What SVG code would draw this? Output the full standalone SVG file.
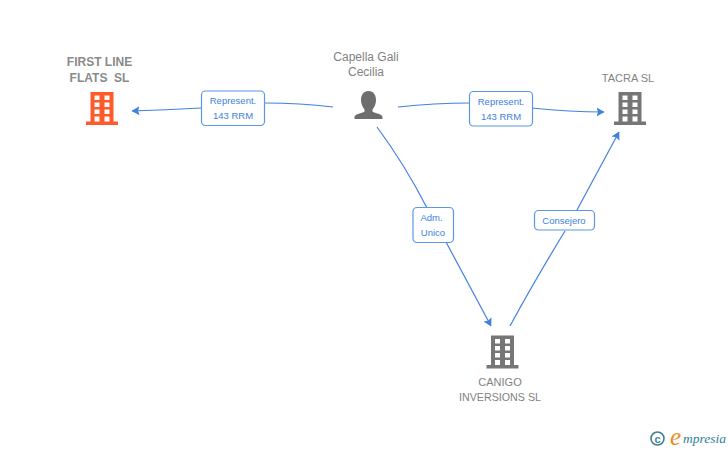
<svg xmlns="http://www.w3.org/2000/svg" width="728" height="450" viewBox="0 0 728 450">
<style>
text{font-family:"Liberation Sans",Arial,sans-serif}
.n{font-size:11px;fill:#828282;text-anchor:middle}
.b{font-weight:bold;font-size:12px;white-space:pre;fill:#8a8a8a}
.p{font-size:12px}
.l{font-size:9.500px;fill:#3b7fe0;text-anchor:middle}
.c{fill:none;stroke:#3f80e0;stroke-width:1.200}
.box{fill:#fff;stroke:#5b97e6;stroke-width:1.200}
</style>
<defs>
<marker id="a" viewBox="0 0 8 10" refX="7.500" refY="5" markerWidth="8" markerHeight="10" markerUnits="userSpaceOnUse" orient="auto"><path d="M0 0.500L8 5L0 9.500L1.500 5Z" fill="#3f80e0"/></marker>
<g id="bld">
<path fill-rule="evenodd" d="M-11.500 -16.500H11.500V13H16V16.500H-16V13H-11.500ZM-7.500 -13V-8.500H-2.500V-13ZM2.500 -13V-8.500H7.500V-13ZM-7.500 -6V-1.500H-2.500V-6ZM2.500 -6V-1.500H7.500V-6ZM-7.500 1V5.500H-2.500V1ZM2.500 1V5.500H7.500V1ZM-7.500 8V13H-2.500V8ZM2.500 8V13H7.500V8Z"/>
</g>
</defs>
<rect width="728" height="450" fill="#fff"/>
<g id="connectors">
<path class="c" d="M333 107Q300 103 265 103"/>
<path class="c" d="M201 108Q165 110 132 111" marker-end="url(#a)"/>
<path class="c" d="M398 107Q435 103 470 103"/>
<path class="c" d="M532 108Q570 112 604 112" marker-end="url(#a)"/>
<path class="c" d="M377 127Q405 165 427 208"/>
<path class="c" d="M446 242L491 326" marker-end="url(#a)"/>
<path class="c" d="M510 326Q535 280 565 231"/>
<path class="c" d="M577 210L619 132" marker-end="url(#a)"/>
</g>
<g id="edge-1"><rect class="box" x="201.500" y="91" width="63" height="34.500" rx="4"/><text class="l" x="233" y="104">Represent.</text><text class="l" x="233" y="119">143 RRM</text></g>
<g id="edge-2"><rect class="box" x="469.500" y="91.500" width="63" height="34.500" rx="4"/><text class="l" x="501" y="105">Represent.</text><text class="l" x="501" y="120">143 RRM</text></g>
<g id="edge-3"><rect class="box" x="413" y="207.500" width="40.500" height="35" rx="4"/><text class="l" x="431.500" y="221">Adm.</text><text class="l" x="433" y="236">Unico</text></g>
<g id="edge-4"><rect class="box" x="534.500" y="210.500" width="60" height="19.500" rx="4"/><text class="l" x="564" y="224">Consejero</text></g>
<g id="first-line"><text class="n b" x="99.500" y="65.500">FIRST LINE</text><text class="n b" x="99.500" y="81.500" xml:space="preserve">FLATS  SL</text><use href="#bld" x="102" y="108.500" fill="#ff5a2b"/></g>
<g id="capella"><text class="n p" x="366" y="60.500">Capella Gali</text><text class="n p" x="366" y="75.500">Cecilia</text><path fill="#6e6e6e" d="M368.500 91C373.500 91 376 95 376 100C376 104 374.500 107 372.500 109.500V111.500C375 113.500 382 113.500 382.500 117V119H354.500V117C355 113.500 362 113.500 364.500 111.500V109.500C362.500 107 361 104 361 100C361 95 363.500 91 368.500 91Z"/></g>
<g id="tacra"><text class="n" x="628" y="82">TACRA SL</text><use href="#bld" x="630" y="108.500" fill="#767676"/></g>
<g id="canigo"><use href="#bld" x="502.500" y="352" fill="#767676"/><text class="n" x="500" y="385.500">CANIGO</text><text class="n" x="500" y="400.500" textLength="82" lengthAdjust="spacingAndGlyphs">INVERSIONS SL</text></g>
<g id="logo"><circle cx="657.500" cy="438.500" r="6.500" fill="none" stroke="#3f7f93" stroke-width="1.600"/><text x="657.500" y="442.500" font-size="11" font-weight="bold" fill="#3f7f93" text-anchor="middle">c</text><text x="670" y="445" font-size="25" font-style="italic" fill="#f08a1d" style="font-family:'Liberation Serif',serif">e</text><text x="683" y="443" font-size="13.500" font-style="italic" fill="#2f7f93" style="font-family:'Liberation Serif',serif" textLength="43">mpresia</text></g>
</svg>
